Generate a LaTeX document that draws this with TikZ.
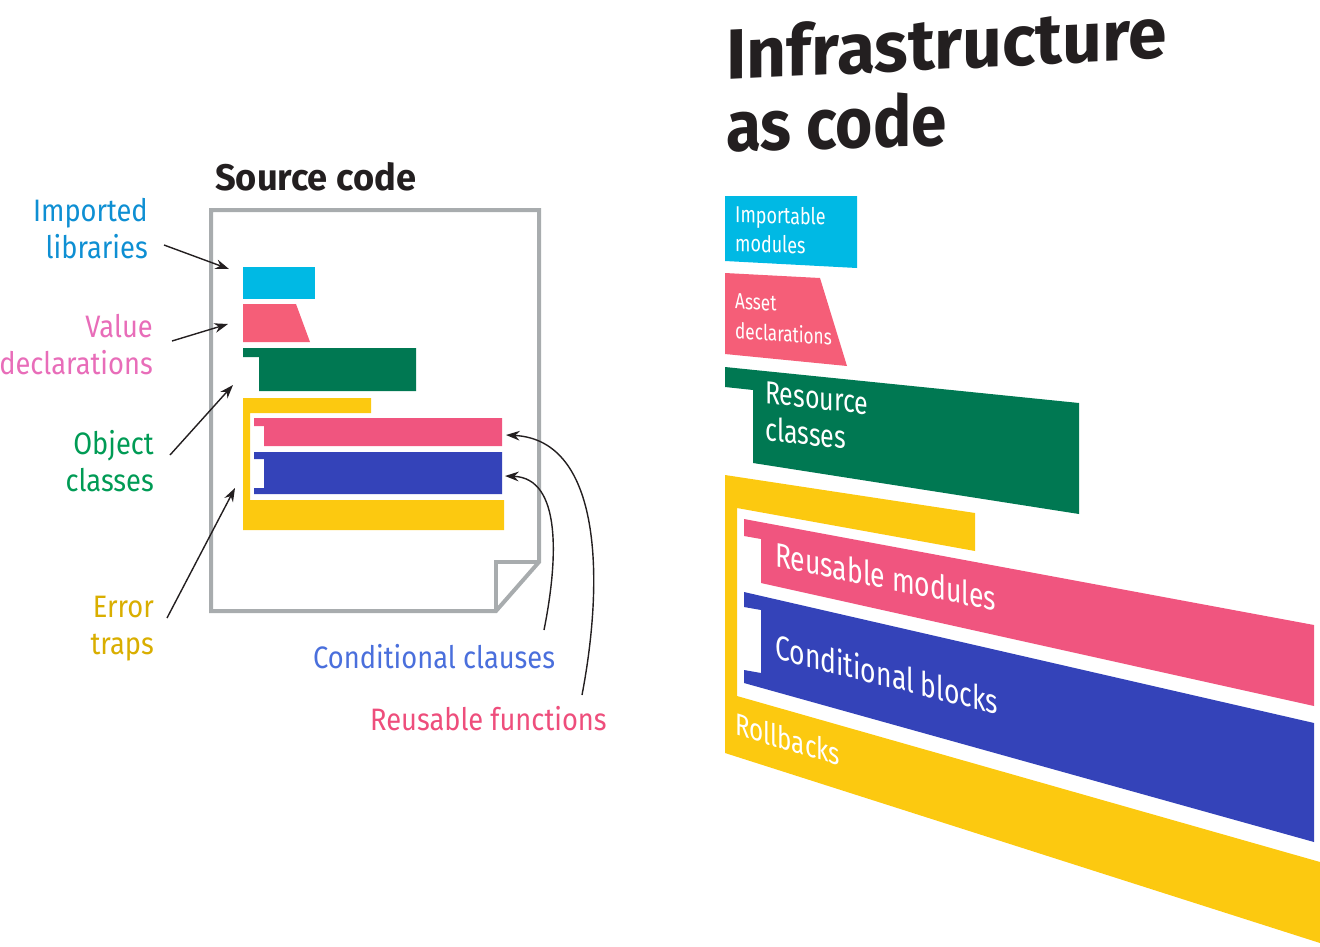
\documentclass[tikz,border=0pt]{standalone}
\usepackage{fontspec}
\setmainfont{Fira Sans}[FakeStretch=0.88]
\newfontfamily\boxfont{Fira Sans}[FakeStretch=0.78]
\newfontfamily\titlefont{Fira Sans}[FakeStretch=0.98]
\newfontfamily\subtitlefont{Fira Sans}[FakeStretch=0.9]
\usetikzlibrary{arrows.meta, positioning}
\definecolor{inkblack}{HTML}{231F20}
\definecolor{docgray}{HTML}{A8ACAE}
\definecolor{codecyan}{HTML}{00B9E4}
\definecolor{assetpink}{HTML}{F55E78}
\definecolor{codegreen}{HTML}{007852}
\definecolor{codeyellow}{HTML}{FCC910}
\definecolor{codepink}{HTML}{F0557F}
\definecolor{codeblue}{HTML}{3443B9}
\definecolor{lblblue}{HTML}{0E8FD3}
\definecolor{lblpink}{HTML}{E86DB9}
\definecolor{lblgreen}{HTML}{009B55}
\definecolor{lblgold}{HTML}{D9AE00}
\definecolor{lblcond}{HTML}{4A6FDC}
\definecolor{lblreuse}{HTML}{EE4E7C}

\begin{document}
\begin{tikzpicture}[
    x=1pt, y=-1pt,
    every node/.style={inner sep=0pt},
    lbl/.style={font=\fontsize{31}{37}\selectfont, align=right, anchor=north east},
    boxtxt/.style={text=white, align=left, anchor=north west, transform shape},
    arrow/.style={-{Stealth[length=4.8mm, width=3.4mm]}, line width=1.4pt, draw=inkblack}
]
    \useasboundingbox (0,0) rectangle (1320,946);

    % source code page
    \node[font=\titlefont\fontsize{37}{40}\selectfont\bfseries, text=inkblack, anchor=base west] (srctitle) at (215,190) {Source code};
    \draw[docgray, line width=4pt] (211,210) -- (539,210) -- (539,562) -- (496,611) -- (211,611) -- cycle;
    \draw[docgray, line width=4pt] (496,611) -- (496,562) -- (539,562);

    \fill[codecyan] (243,267) rectangle (315,299);
    \fill[assetpink] (243,304) -- (296,304) -- (310,342) -- (243,342) -- cycle;
    \fill[codegreen] (243,348) -- (416,348) -- (416,391) -- (259,391) -- (259,357) -- (243,357) -- cycle;
    \fill[codeyellow] (243,398) -- (371,398) -- (371,413) -- (250,413) -- (250,500) -- (504,500) -- (504,530) -- (243,530) -- cycle;
    \fill[codepink] (254,418) -- (502,418) -- (502,446) -- (264,446) -- (264,426) -- (254,426) -- cycle;
    \fill[codeblue] (254,452) -- (502,452) -- (502,494) -- (254,494) -- (254,488) -- (264,488) -- (264,459) -- (254,459) -- cycle;

    % labels
    \node[lbl, text=lblblue] (implib) at (148,198) {Imported\\libraries};
    \node[lbl, text=lblpink] (valdecl) at (153,314) {Value\\declarations};
    \node[lbl, text=lblgreen] (objcls) at (154,430) {Object\\classes};
    \node[lbl, text=lblgold] (errtrap) at (154,596) {Error\\traps};
    \node[font=\fontsize{31}{36}\selectfont, text=lblcond, anchor=base west] (condcl) at (313,668) {Conditional clauses};
    \node[font=\fontsize{31}{36}\selectfont, text=lblreuse, anchor=base west] (reusefn) at (370,730) {Reusable functions};

    \coordinate (implib-tail) at (164,245);
    \coordinate (implib-head) at (229,269);
    \coordinate (valdecl-tail) at (172,341);
    \coordinate (valdecl-head) at (228,324);
    \coordinate (objcls-tail) at (170,455);
    \coordinate (objcls-head) at (233,385);
    \coordinate (errtrap-tail) at (167,618);
    \coordinate (errtrap-head) at (235,488);
    \coordinate (condcl-tail) at (544,630);
    \coordinate (condcl-head) at (505,476);
    \coordinate (reusefn-tail) at (582,695);
    \coordinate (reusefn-head) at (506,435);

    \draw[arrow] (implib-tail) -- (implib-head);
    \draw[arrow] (valdecl-tail) -- (valdecl-head);
    \draw[arrow] (objcls-tail) -- (objcls-head);
    \draw[arrow] (errtrap-tail) -- (errtrap-head);
    \draw[arrow] (condcl-tail) .. controls (558,560) and (562,478) .. (condcl-head);
    \draw[arrow] (reusefn-tail) .. controls (604,580) and (602,440) .. (reusefn-head);

    % infrastructure as code
    \node[font=\titlefont\fontsize{71}{74}\selectfont\bfseries, text=inkblack, anchor=base west, shift={(726,80)}, yslant=0.05, transform shape] (iactitle) at (0,0) {Infrastructure};
    \node[font=\subtitlefont\fontsize{71}{74}\selectfont\bfseries, text=inkblack, anchor=base west, shift={(726,152)}, yslant=0.03, transform shape] (iacsub) at (0,0) {as code};

    \fill[codecyan] (725,196) -- (857,196) -- (857,268) -- (725,261) -- cycle;
    \fill[assetpink] (725,273) -- (820,278) -- (847,366) -- (725,354) -- cycle;
    \fill[codegreen] (725,367) -- (1079,403) -- (1079,514) -- (753,463) -- (753,390) -- (725,387) -- cycle;
    \fill[codeyellow] (725,475) -- (975,513) -- (975,551) -- (737,508) -- (737,696) -- (1320,862) -- (1320,943) -- (725,753) -- cycle;
    \fill[codepink] (744,519) -- (1314,625) -- (1314,706) -- (761,583) -- (761,539) -- (744,536) -- cycle;
    \fill[codeblue] (744,592) -- (1314,723) -- (1314,842) -- (744,683) -- (744,670) -- (761,673) -- (761,610) -- (744,607) -- cycle;

    \node[boxtxt, font=\boxfont\fontsize{23}{29}\selectfont, shift={(735,205)}, yslant=-0.03] (impmod) at (0,0) {Importable\\modules};
    \node[boxtxt, font=\boxfont\fontsize{22}{30}\selectfont, shift={(735,293)}, yslant=-0.07] (assetdecl) at (0,0) {Asset\\declarations};
    \node[boxtxt, font=\boxfont\fontsize{32}{37}\selectfont, shift={(765,381)}, yslant=-0.11] (rescls) at (0,0) {Resource\\classes};
    \node[boxtxt, font=\boxfont\fontsize{34}{40}\selectfont, shift={(775,541)}, yslant=-0.2] (reusemod) at (0,0) {Reusable modules};
    \node[boxtxt, font=\boxfont\fontsize{34}{40}\selectfont, shift={(775,632)}, yslant=-0.25] (condblk) at (0,0) {Conditional blocks};
    \node[boxtxt, font=\boxfont\fontsize{31}{37}\selectfont, shift={(735,711)}, yslant=-0.3] (rollback) at (0,0) {Rollbacks};
\end{tikzpicture}
\end{document}
